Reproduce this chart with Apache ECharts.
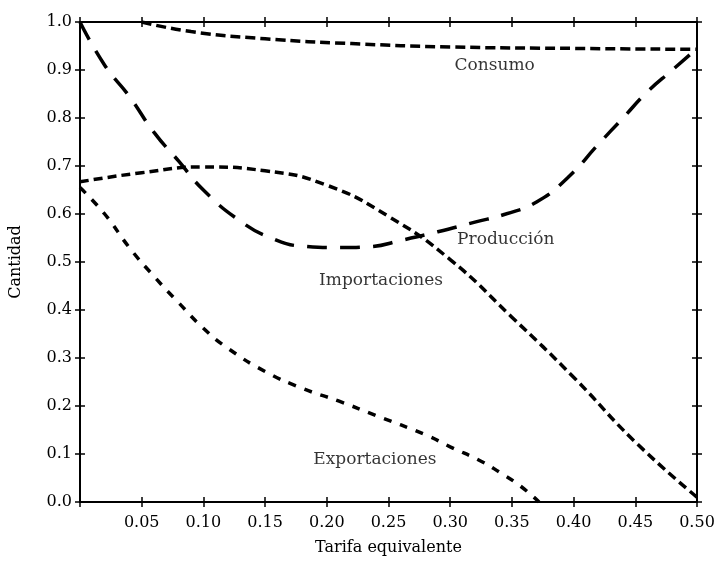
<!DOCTYPE html>
<html>
<head>
<meta charset="utf-8">
<script src="https://cdn.jsdelivr.net/npm/echarts@6/dist/echarts.min.js"></script>
<style>
  html, body { margin: 0; padding: 0; background: #fff; }
  #chart { width: 718px; height: 561px; }
</style>
</head>
<body>
<div id="chart"></div>
<script>
// datos
var consumo = [[0.05,1.0],[0.09,0.98],[0.15,0.965],[0.22,0.955],[0.30,0.948],[0.40,0.945],[0.50,0.943]];
var produccion = [[0,1.0],[0.02,0.91],[0.04,0.845],[0.06,0.77],[0.08,0.71],[0.10,0.65],[0.13,0.585],[0.155,0.55],[0.18,0.533],[0.21,0.53],[0.235,0.532],[0.26,0.545],[0.29,0.563],[0.32,0.583],[0.345,0.6],[0.37,0.625],[0.395,0.675],[0.42,0.745],[0.44,0.8],[0.46,0.855],[0.48,0.9],[0.50,0.945]];
var importaciones = [[0,0.667],[0.05,0.686],[0.10,0.698],[0.15,0.69],[0.20,0.66],[0.25,0.595],[0.30,0.505],[0.35,0.385],[0.40,0.26],[0.45,0.125],[0.50,0.01]];
var exportaciones = [[0,0.655],[0.02,0.6],[0.04,0.53],[0.06,0.47],[0.08,0.415],[0.10,0.362],[0.12,0.32],[0.15,0.272],[0.18,0.237],[0.21,0.21],[0.24,0.18],[0.28,0.14],[0.30,0.115],[0.325,0.085],[0.34,0.062],[0.357,0.033],[0.372,0.0]];
var etiquetas = [[0.336,0.909,'Consumo'],[0.345,0.547,'Producción'],[0.244,0.462,'Importaciones'],[0.239,0.089,'Exportaciones']];

var fuente = 'DejaVu Serif';
var negro = '#000';

function ejeX(pos, inside, labels) {
    return {
        type: 'value', min: 0, max: 0.5, interval: 0.05, position: pos,
        name: labels ? 'Tarifa equivalente' : '',
        nameLocation: 'middle', nameGap: 38,
        nameTextStyle: { fontFamily: fuente, fontSize: 16, color: negro },
        axisLine: { show: true, onZero: false, lineStyle: { color: negro, width: 2 } },
        axisTick: { show: true, inside: inside, length: 5, lineStyle: { color: negro, width: 1.5 } },
        axisLabel: {
            show: labels, margin: 13, fontFamily: fuente, fontSize: 16, color: negro,
            formatter: function (v) { return v === 0 ? '' : v.toFixed(2); }
        },
        splitLine: { show: false }
    };
}
function ejeY(pos, inside, labels) {
    return {
        type: 'value', min: 0, max: 1, interval: 0.1, position: pos,
        name: labels ? 'Cantidad' : '',
        nameLocation: 'middle', nameGap: 56,
        nameTextStyle: { fontFamily: fuente, fontSize: 16, color: negro },
        axisLine: { show: true, onZero: false, lineStyle: { color: negro, width: 2 } },
        axisTick: { show: true, inside: inside, length: 5, lineStyle: { color: negro, width: 1.5 } },
        axisLabel: {
            show: labels, margin: 8, fontFamily: fuente, fontSize: 16, color: negro,
            formatter: function (v) { return v.toFixed(1); }
        },
        splitLine: { show: false }
    };
}
function curva(nombre, datos, dash) {
    return {
        name: nombre, type: 'line', data: datos, smooth: 0.5,
        showSymbol: false, symbol: 'none', silent: true,
        xAxisIndex: 0, yAxisIndex: 0,
        lineStyle: { color: negro, width: 3.5, type: dash, cap: 'butt' }
    };
}

var myChart = echarts.init(document.getElementById('chart'));
myChart.setOption({
    backgroundColor: '#fff',
    animation: false,
    grid: { left: 79, right: 21, top: 22, bottom: 58 },
    xAxis: [ejeX('bottom', false, true), ejeX('bottom', true, false), ejeX('top', true, false), ejeX('top', false, false)],
    yAxis: [ejeY('left', false, true), ejeY('left', true, false), ejeY('right', true, false), ejeY('right', false, false)],
    series: [
        curva('Consumo', consumo, [10, 5]),
        curva('Producción', produccion, [20, 13]),
        curva('Importaciones', importaciones, [9, 5]),
        curva('Exportaciones', exportaciones, [8, 9]),
        {
            type: 'scatter', symbolSize: 0, silent: true,
            xAxisIndex: 0, yAxisIndex: 0,
            data: etiquetas,
            label: {
                show: true, position: 'inside',
                fontFamily: fuente, fontSize: 17, color: negro,
                formatter: function (p) { return p.data[2]; }
            }
        }
    ]
});
</script>
</body>
</html>
